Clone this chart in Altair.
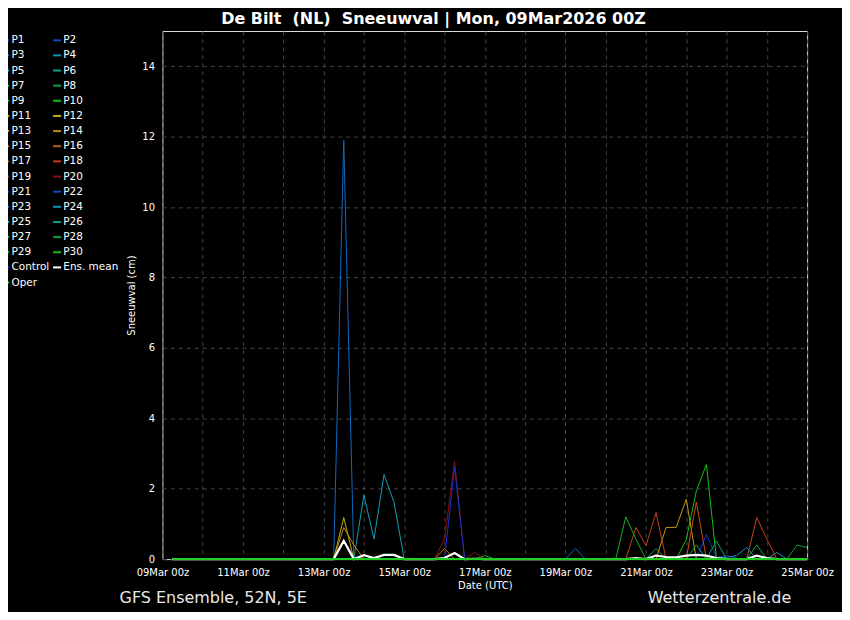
import altair as alt
import pandas as pd

# ---- data -------------------------------------------------------------
HOURS = list(range(6, 385, 6))  # forecast steps after 09Mar2026 00Z
MEMBERS = [f"P{i}" for i in range(1, 31)] + ["Control"]
SERIES = MEMBERS + ["Ens. mean", "Oper"]

BASE10 = ["#1a30d0", "#1048c0", "#1068c0", "#1090c0", "#10a0b0",
          "#10a088", "#10a060", "#10a040", "#10b020", "#10c010"]
WARM10 = ["#b0b010", "#c0b010", "#c09810", "#c08810", "#c07010",
          "#c06010", "#c05010", "#c04020", "#a02020", "#901010"]
COLORS = BASE10 + WARM10 + BASE10 + ["#2020ff", "#ffffff", "#20d020"]

# non-zero snowfall values (cm) per member, keyed by forecast hour
P1 = {324: 0.7, 330: 0.05, 336: 0.1, 342: 0.03}
P3 = {108: 11.9}
P4 = {366: 0.19}
P5 = {120: 1.82, 126: 0.57, 132: 2.4, 138: 1.6}
P8 = {294: 0.3, 378: 0.4, 384: 0.33}
P9 = {192: 0.1}
P10 = {312: 0.55, 318: 1.93, 324: 2.69}
P12 = {108: 1.18}
P13 = {300: 0.9, 306: 0.9, 312: 1.7}
P14 = {108: 0.9, 114: 0.4}
P15 = {168: 0.3}
P17 = {318: 1.62}
P18 = {282: 0.9, 288: 0.38, 294: 1.32, 354: 1.18, 360: 0.57}
P20 = {168: 0.57, 174: 2.78, 186: 0.19}
P21 = {174: 2.6}
P23 = {246: 0.3}
P24 = {336: 0.05, 342: 0.1, 348: 0.33}
P27 = {318: 0.4, 330: 0.52}
P28 = {354: 0.4}
P29 = {276: 1.2, 282: 0.57}
ENS_MEAN = {108: 0.52, 120: 0.11, 126: 0.03, 132: 0.12, 138: 0.12, 168: 0.03,
            174: 0.17, 186: 0.01, 282: 0.03, 294: 0.1, 300: 0.06, 306: 0.05,
            312: 0.1, 318: 0.12, 324: 0.1, 330: 0.03, 354: 0.1, 360: 0.03}
OPER = {}

EVENTS = {"P1": P1, "P3": P3, "P4": P4, "P5": P5, "P8": P8, "P9": P9,
          "P10": P10, "P12": P12, "P13": P13, "P14": P14, "P15": P15,
          "P17": P17, "P18": P18, "P20": P20, "P21": P21, "P23": P23,
          "P24": P24, "P27": P27, "P28": P28, "P29": P29,
          "Ens. mean": ENS_MEAN, "Oper": OPER}

START = pd.Timestamp("2026-03-09T00:00:00Z")

# legend fills column by column: left column = odd members, Control, Oper
COLOR_OF = dict(zip(SERIES, COLORS))
LEGEND_ORDER = ([f"P{i}" for i in range(1, 31, 2)] + ["Control", "Oper"]
                + [f"P{i}" for i in range(2, 31, 2)] + ["Ens. mean"])
LEGEND_COLORS = [COLOR_OF[s] for s in LEGEND_ORDER]


def frame(names):
    rows = []
    for n in names:
        ev = EVENTS.get(n, {})
        for h in HOURS:
            t = (START + pd.Timedelta(hours=h)).strftime("%Y-%m-%dT%H:%M:%SZ")
            rows.append({"series": n, "t": t, "v": ev.get(h, 0.0)})
    return pd.DataFrame(rows)


FONT = "DejaVu Sans"

x_enc = alt.X(
    "t:T",
    scale=alt.Scale(type="utc",
                    domain=[alt.DateTime(year=2026, month=3, date=9, utc=True),
                            alt.DateTime(year=2026, month=3, date=25, utc=True)]),
    axis=alt.Axis(
        values=[alt.DateTime(year=2026, month=3, date=d, utc=True) for d in range(9, 26)],
        labelExpr="utcdate(datum.value) % 2 == 1 ? utcFormat(datum.value, '%d%b %Hz') : ''",
        title="Date (UTC)", grid=True, gridColor="#444444", gridDash=[4, 4],
        ticks=False, domain=False, labelFlush=False, labelOverlap=False,
        labelColor="white", labelFontSize=10, labelPadding=8, labelFont=FONT,
        titleColor="white", titleFontSize=10, titleFontWeight="normal",
        titleFont=FONT, titlePadding=4),
)
y_enc = alt.Y(
    "v:Q",
    scale=alt.Scale(domain=[0, 15], nice=False),
    axis=alt.Axis(
        values=[0, 2, 4, 6, 8, 10, 12, 14], title="Sneeuwval (cm)", grid=True,
        gridColor="#444444", gridDash=[4, 4], ticks=False, domain=False,
        labelColor="white", labelFontSize=10, labelPadding=8, labelFont=FONT,
        titleColor="white", titleFontSize=10, titleFontWeight="normal",
        titleFont=FONT, titlePadding=5),
)
color_enc = alt.Color(
    "series:N",
    scale=alt.Scale(domain=LEGEND_ORDER, range=LEGEND_COLORS),
    legend=alt.Legend(
        title=None, orient="none", legendX=-163, legendY=4, columns=2,
        symbolType="stroke", symbolSize=64, symbolStrokeWidth=2,
        labelColor="white", labelFontSize=10.5, labelFont=FONT, labelOffset=1,
        columnPadding=-1, rowPadding=4.2, padding=0, labelLimit=200,
        symbolLimit=40),
)

members = alt.Chart(frame(MEMBERS)).mark_line(strokeWidth=1).encode(
    x=x_enc, y=y_enc, color=color_enc, detail="series:N")
mean = alt.Chart(frame(["Ens. mean"])).mark_line(strokeWidth=2.2).encode(
    x=x_enc, y=y_enc, color=color_enc)
oper = alt.Chart(frame(["Oper"])).mark_line(strokeWidth=2).encode(
    x=x_enc, y=y_enc, color=color_enc)

NB = "\u00a0"
TITLE = [f"De Bilt {NB}(NL) {NB}Sneeuwval | Mon, 09Mar2026 00Z"]
LEFT_FOOT = ["GFS Ensemble, 52N, 5E"]
RIGHT_FOOT = ["Wetterzentrale.de"]

title = alt.Chart(pd.DataFrame({"s": TITLE})).mark_text(
    font=FONT, fontSize=16, fontWeight="bold", color="white",
    align="center", baseline="alphabetic").encode(
    text="s:N", x=alt.value(272), y=alt.value(-7))
foot_l = alt.Chart(pd.DataFrame({"s": LEFT_FOOT})).mark_text(
    font=FONT, fontSize=16, color="#e8e8e8", align="left",
    baseline="alphabetic").encode(text="s:N", x=alt.value(-43), y=alt.value(574))
foot_r = alt.Chart(pd.DataFrame({"s": RIGHT_FOOT})).mark_text(
    font=FONT, fontSize=16, color="#e8e8e8", align="left",
    baseline="alphabetic").encode(text="s:N", x=alt.value(487), y=alt.value(574))

chart = alt.layer(members, mean, oper, title, foot_l, foot_r).properties(
    width=647, height=530,
    autosize=alt.AutoSizeParams(type="none"),
    padding={"left": 155, "top": 22, "right": 35, "bottom": 52},
    background="black",
).configure_view(stroke="#d8d8d8", strokeWidth=1).configure(font=FONT)

chart.save("out.html", embed_options={"renderer": "svg", "actions": False})
